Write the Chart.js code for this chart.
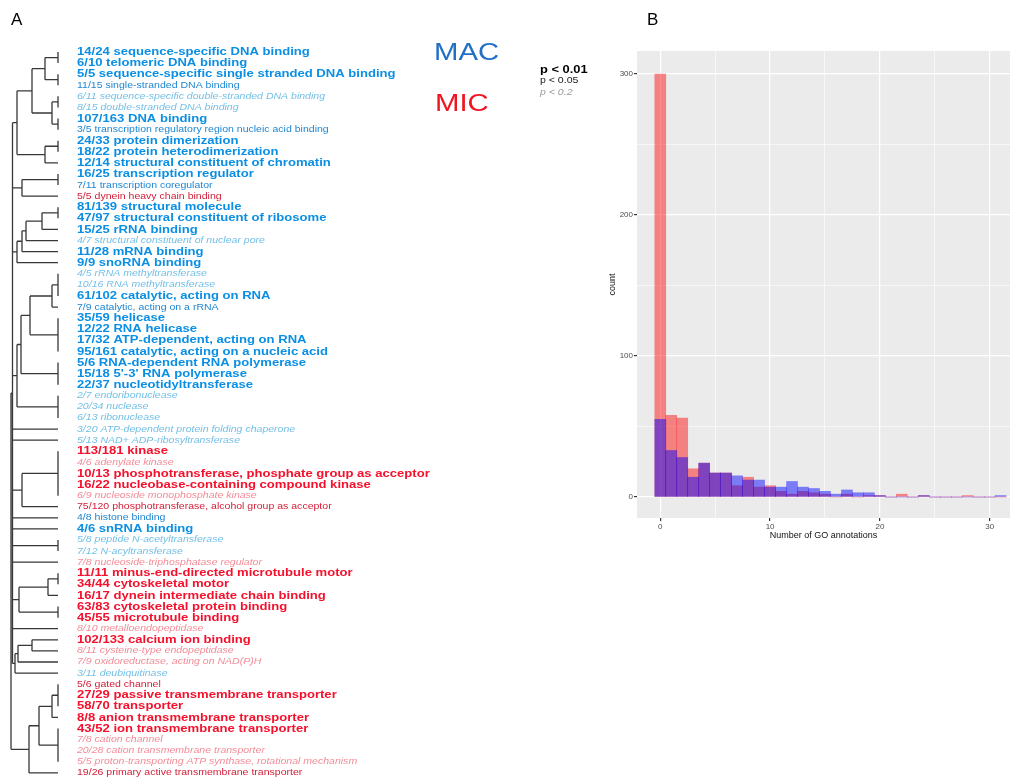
<!DOCTYPE html>
<html>
<head>
<meta charset="utf-8">
<script src="https://cdn.jsdelivr.net/npm/chart.js@4"></script>
<style>
html, body { margin: 0; padding: 0; background: #fff; }
#treeChart { position: absolute; left: 0; top: 0; }
#histChart { position: absolute; left: 600px; top: 0; }
</style>
</head>
<body>
<canvas id="treeChart" width="600" height="778"></canvas>
<canvas id="histChart" width="411" height="778"></canvas>
<script>

// GO terms, top to bottom
let goLabels = [
  '14/24 sequence-specific DNA binding',
  '6/10 telomeric DNA binding',
  '5/5 sequence-specific single stranded DNA binding',
  '11/15 single-stranded DNA binding',
  '6/11 sequence-specific double-stranded DNA binding',
  '8/15 double-stranded DNA binding',
  '107/163 DNA binding',
  '3/5 transcription regulatory region nucleic acid binding',
  '24/33 protein dimerization',
  '18/22 protein heterodimerization',
  '12/14 structural constituent of chromatin',
  '16/25 transcription regulator',
  '7/11 transcription coregulator',
  '5/5 dynein heavy chain binding',
  '81/139 structural molecule',
  '47/97 structural constituent of ribosome',
  '15/25 rRNA binding',
  '4/7 structural constituent of nuclear pore',
  '11/28 mRNA binding',
  '9/9 snoRNA binding',
  '4/5 rRNA methyltransferase',
  '10/16 RNA methyltransferase',
  '61/102 catalytic, acting on RNA',
  '7/9 catalytic, acting on a rRNA',
  '35/59 helicase',
  '12/22 RNA helicase',
  '17/32 ATP-dependent, acting on RNA',
  '95/161 catalytic, acting on a nucleic acid',
  '5/6 RNA-dependent RNA polymerase',
  "15/18 5'-3' RNA polymerase",
  '22/37 nucleotidyltransferase',
  '2/7 endoribonuclease',
  '20/34 nuclease',
  '6/13 ribonuclease',
  '3/20 ATP-dependent protein folding chaperone',
  '5/13 NAD+ ADP-ribosyltransferase',
  '113/181 kinase',
  '4/6 adenylate kinase',
  '10/13 phosphotransferase, phosphate group as acceptor',
  '16/22 nucleobase-containing compound kinase',
  '6/9 nucleoside monophosphate kinase',
  '75/120 phosphotransferase, alcohol group as acceptor',
  '4/8 histone binding',
  '4/6 snRNA binding',
  '5/8 peptide N-acetyltransferase',
  '7/12 N-acyltransferase',
  '7/8 nucleoside-triphosphatase regulator',
  '11/11 minus-end-directed microtubule motor',
  '34/44 cytoskeletal motor',
  '16/17 dynein intermediate chain binding',
  '63/83 cytoskeletal protein binding',
  '45/55 microtubule binding',
  '8/10 metalloendopeptidase',
  '102/133 calcium ion binding',
  '8/11 cysteine-type endopeptidase',
  '7/9 oxidoreductase, acting on NAD(P)H',
  '3/11 deubiquitinase',
  '5/6 gated channel',
  '27/29 passive transmembrane transporter',
  '58/70 transporter',
  '8/8 anion transmembrane transporter',
  '43/52 ion transmembrane transporter',
  '7/8 cation channel',
  '20/28 cation transmembrane transporter',
  '5/5 proton-transporting ATP synthase, rotational mechanism',
  '19/26 primary active transmembrane transporter'
];

// which genome each term is enriched in
let goGenome = [
  'MAC','MAC','MAC','MAC','MAC','MAC','MAC','MAC','MAC','MAC','MAC','MAC','MAC','MIC',
  'MAC','MAC','MAC','MAC','MAC','MAC','MAC','MAC','MAC','MAC','MAC','MAC','MAC','MAC',
  'MAC','MAC','MAC','MAC','MAC','MAC','MAC','MAC',
  'MIC','MIC','MIC','MIC','MIC','MIC',
  'MAC','MAC','MAC','MAC',
  'MIC','MIC','MIC','MIC','MIC','MIC','MIC','MIC','MIC','MIC',
  'MAC',
  'MIC','MIC','MIC','MIC','MIC','MIC','MIC','MIC','MIC'
];

// 1: p < 0.01, 2: p < 0.05, 3: p < 0.2
let goLevel = [
  1,1,1,2,3,3,1,2,1,1,1,1,2,2,1,1,1,3,1,1,3,3,1,2,1,1,1,1,1,1,1,3,3,3,3,3,
  1,3,1,1,3,2,2,1,3,3,3,1,1,1,1,1,3,1,3,3,3,2,1,1,1,1,3,3,3,2
];

// dendrogram merges: [height, children]; numbers are leaves, 'nK' is merge K
let treeNodes = [
  [0, [0, 1]],
  [0, [2, 3]],
  [13, ['n0', 'n1']],
  [0, [4, 5]],
  [0, [6, 7]],
  [6, ['n3', 'n4']],
  [26, ['n2', 'n5']],
  [0, [8, 9]],
  [13, ['n7', 10]],
  [41, ['n6', 'n8']],
  [0, [11, 12]],
  [36, ['n10', 13]],
  [0, [14, 15]],
  [16, ['n12', 16]],
  [32, ['n13', 17]],
  [36, ['n14', 18]],
  [41, ['n15', 19]],
  [0, [20, 21, 22]],
  [6, ['n17', 23]],
  [0, [24, 25, 26, 27]],
  [28, ['n18', 'n19']],
  [0, [28, 29, 30]],
  [37, ['n20', 'n21']],
  [0, [31, 32, 33]],
  [41, ['n22', 'n23']],
  [0, [36, 37, 38, 39, 40]],
  [36, ['n25', 41]],
  [0, [44, 45]],
  [0, [47, 48]],
  [10, ['n28', 49]],
  [0, [50, 51]],
  [39, ['n29', 'n30']],
  [26, [53, 54]],
  [40, ['n32', 55]],
  [43, ['n33', 56]],
  [0, [57, 58, 59]],
  [6, ['n35', 60]],
  [0, [61, 62, 63, 64]],
  [19, ['n36', 'n37']],
  [29, ['n38', 65]],
  [45.5, ['n9', 'n11', 'n16', 'n24', 34, 35, 'n26', 42, 43, 'n27', 46, 'n31', 52, 'n34']],
  [47, ['n40', 'n39']]
];

// histogram (panel B)
let annotationBins = [0,1,2,3,4,5,6,7,8,9,10,11,12,13,14,15,16,17,18,19,20,21,22,23,24,25,26,27,28,29,30,31];
let micCounts = [300,58,56,20,24,17,17,8,14,7,8,4,2,4,3,2,0,2,0,1,1,0,2,0,1,0,0,0,1,0,0,0];
let macCounts = [55,33,28,14,24,17,17,15,12,12,7,7,11,7,6,4,2,5,3,3,1,0,0,0,1,0,0,0,0,0,0,1];
let countTicks = [0,50,100,150,200,250,300];
let annotationTicks = [0,5,10,15,20,25,30];

const FONT = '"Liberation Sans", Arial, sans-serif';
const STRETCH = 1.17;
let termColors = {
  MAC: ['#0A8FE4', '#1E86D2', '#72BFE6'],
  MIC: ['#F5102C', '#D2203A', '#F38C98']
};
function termFont(lvl) {
  if (lvl === 1) return 'bold 11.2px ' + FONT;
  if (lvl === 2) return '9px ' + FONT;
  return 'italic 9px ' + FONT;
}

// turn the merges into line segments (null points break the line)
function treeSegments() {
  let pos = {};
  let pts = [];
  let at = c => typeof c === 'number' ? {h: 0, y: c} : pos[c];
  treeNodes.forEach((nd, k) => {
    let h = nd[0];
    let kids = nd[1].map(at);
    let y0 = kids[0].y, y1 = kids[kids.length - 1].y;
    pts.push({x: h, y: y0}, {x: h, y: y1}, {x: null, y: null});
    kids.forEach(c => {
      if (c.h !== h) pts.push({x: h, y: c.y}, {x: c.h, y: c.y}, {x: null, y: null});
    });
    pos['n' + k] = {h: h, y: (y0 + y1) / 2};
  });
  return pts;
}

function stretchText(ctx, text, x, y, sx) {
  ctx.save();
  ctx.translate(x, y);
  ctx.scale(sx, 1);
  ctx.fillText(text, 0, 0);
  ctx.restore();
}

const treeText = {
  id: 'treeText',
  afterDraw(chart) {
    let ctx = chart.ctx;
    let ys = chart.scales.y;
    ctx.save();
    ctx.textBaseline = 'middle';
    ctx.textAlign = 'left';
    goLabels.forEach((t, i) => {
      ctx.font = termFont(goLevel[i]);
      ctx.fillStyle = termColors[goGenome[i]][goLevel[i] - 1];
      stretchText(ctx, t, 77, ys.getPixelForValue(i), STRETCH);
    });

    ctx.fillStyle = '#000';
    ctx.font = '17px ' + FONT;
    ctx.fillText('A', 11, 20);

    ctx.font = '24px ' + FONT;
    ctx.fillStyle = '#2170C6';
    stretchText(ctx, 'MAC', 434, 53, 1.22);
    ctx.fillStyle = '#F01420';
    stretchText(ctx, 'MIC', 435, 104, 1.22);

    ctx.fillStyle = '#000';
    ctx.font = 'bold 11px ' + FONT;
    stretchText(ctx, 'p < 0.01', 540, 70, STRETCH);
    ctx.fillStyle = '#222';
    ctx.font = '9px ' + FONT;
    stretchText(ctx, 'p < 0.05', 540, 81, STRETCH);
    ctx.fillStyle = '#999';
    ctx.font = 'italic 9px ' + FONT;
    stretchText(ctx, 'p < 0.2', 540, 92, STRETCH);
    ctx.restore();
  }
};

let treeChart = new Chart(document.getElementById('treeChart'), {
  type: 'scatter',
  data: {
    datasets: [{
      data: treeSegments(),
      showLine: true,
      spanGaps: false,
      pointRadius: 0,
      borderColor: '#383838',
      borderWidth: 1.3
    }]
  },
  options: {
    responsive: false,
    animation: false,
    layout: { padding: { left: 0, right: 540, top: 46, bottom: 0 } },
    plugins: { legend: { display: false }, tooltip: { enabled: false } },
    scales: {
      x: { type: 'linear', display: false, reverse: true, min: -2, max: 58 },
      y: { type: 'linear', display: false, reverse: true, min: -0.54, max: 65.46 }
    }
  },
  plugins: [treeText]
});

const panelBg = {
  id: 'panelBg',
  beforeDraw(chart) {
    let a = chart.chartArea;
    let ctx = chart.ctx;
    ctx.save();
    ctx.fillStyle = '#EBEBEB';
    ctx.fillRect(a.left, a.top, a.right - a.left, a.bottom - a.top);
    ctx.fillStyle = '#000';
    ctx.font = '17px ' + FONT;
    ctx.textBaseline = 'middle';
    ctx.fillText('B', 47, 20);
    ctx.restore();
  }
};

let gridWidth = (step) => (c) => (c.tick && c.tick.value % step === 0 ? 1.2 : 0.6);
let tickCol = (step) => (c) => (c.tick && c.tick.value % step === 0 ? '#333' : 'rgba(0,0,0,0)');

// dataset 0 is painted last, so MAC (blue) sits over MIC (red)
let histChart = new Chart(document.getElementById('histChart'), {
  type: 'bar',
  data: {
    datasets: [
      {
        label: 'MAC',
        data: annotationBins.map((b, i) => ({ x: b, y: macCounts[i] })),
        backgroundColor: 'rgba(0,0,255,0.48)'
      },
      {
        label: 'MIC',
        data: annotationBins.map((b, i) => ({ x: b, y: micCounts[i] })),
        backgroundColor: 'rgba(255,0,0,0.45)'
      }
    ]
  },
  options: {
    responsive: false,
    animation: false,
    datasets: { bar: { grouped: false, barPercentage: 1, categoryPercentage: 1, borderWidth: 0 } },
    layout: { padding: { left: 0, right: 1, top: 51, bottom: 230 } },
    plugins: { legend: { display: false }, tooltip: { enabled: false } },
    scales: {
      x: {
        type: 'linear',
        offset: false,
        min: -2.12,
        max: 31.85,
        afterBuildTicks: s => { s.ticks = annotationTicks.map(v => ({ value: v })); },
        afterFit: s => { s.height = 30; },
        border: { display: false },
        grid: { offset: false, color: '#fff', lineWidth: gridWidth(10), tickColor: tickCol(10), tickLength: 3 },
        ticks: {
          callback: v => (v % 10 === 0 ? v : ''),
          autoSkip: false, maxRotation: 0, padding: 1,
          color: '#4D4D4D', font: { family: FONT, size: 8 }
        },
        title: {
          display: true, text: 'Number of GO annotations', color: '#111',
          font: { family: FONT, size: 9 }, padding: { top: 0, bottom: 6.6 }
        }
      },
      y: {
        type: 'linear',
        min: -14.9,
        max: 316.3,
        afterBuildTicks: s => { s.ticks = countTicks.map(v => ({ value: v })); },
        afterFit: s => { s.width = 37; },
        border: { display: false },
        grid: { color: '#fff', lineWidth: gridWidth(100), tickColor: tickCol(100), tickLength: 3 },
        ticks: {
          callback: v => (v % 100 === 0 ? v : ''),
          autoSkip: false, padding: 1,
          color: '#4D4D4D', font: { family: FONT, size: 8 }
        },
        title: {
          display: true, text: 'count', color: '#111',
          font: { family: FONT, size: 9 }, padding: { top: 7.6, bottom: 0 }
        }
      }
    }
  },
  plugins: [panelBg]
});
</script>
</body>
</html>
